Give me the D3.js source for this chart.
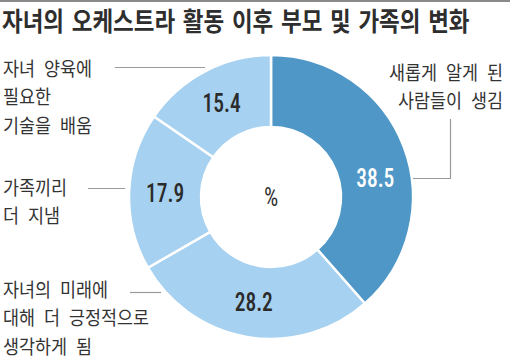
<!DOCTYPE html>
<html><head><meta charset="utf-8">
<script src="https://cdn.jsdelivr.net/npm/d3@7"></script>
<style>
html,body{margin:0;padding:0;background:#fff;}
svg{display:block;}
</style></head>
<body>
<script>
const title = "자녀의 오케스트라 활동 이후 부모 및 가족의 변화";
const categories = ["새롭게 알게 된\n사람들이 생김", "자녀의 미래에\n대해 더 긍정적으로\n생각하게 됨", "가족끼리\n더 지냄", "자녀 양육에\n필요한\n기술을 배움"];
const values = [38.5, 28.2, 17.9, 15.4];
const centerLabel = "%";

const W = 510, H = 360;
const svg = d3.select("body").append("svg").attr("width", W).attr("height", H);
const KR = "'Noto Sans CJK KR','Noto Sans CJK SC',sans-serif";
const NUM = "'Roboto Condensed','Liberation Sans Narrow','DejaVu Sans Condensed','Roboto',sans-serif";

svg.append("rect").attr("x",0).attr("y",0).attr("width",W).attr("height",2).attr("fill","#8a8a8a");

svg.append("g").attr("transform",`translate(2,31) scale(0.865,1)`)
  .append("text").text(title)
  .attr("font-family",KR).attr("font-weight",700).attr("font-size",26)
  .attr("word-spacing",3).attr("fill","#2e2e2e");

const cx = 271, cy = 197, R = 142, r0 = 70;
const colors = ["#4f97c6", "#a7d1f0", "#a7d1f0", "#a7d1f0"];
const pie = d3.pie().sort(null).value(d=>d)(values);
const arc = d3.arc().innerRadius(r0).outerRadius(R);
const g = svg.append("g").attr("transform",`translate(${cx},${cy})`);
g.selectAll("path").data(pie).join("path")
  .attr("d",arc).attr("fill",(d,i)=>colors[i]).attr("stroke","#fff").attr("stroke-width",2.5);

const angleShift = [0.18, 0, 0, 0];
g.selectAll("text.v").data(pie).join("text").attr("class","v")
  .attr("transform",(d,i)=>{
    const a = (d.startAngle+d.endAngle)/2 + angleShift[i];
    const rr = 106;
    return `translate(${rr*Math.sin(a)},${-rr*Math.cos(a)}) scale(0.86,1)`;
  })
  .attr("text-anchor","middle").attr("dy","0.36em")
  .attr("font-family",NUM).attr("font-size",25).attr("font-weight",500)
  .attr("fill",(d,i)=>i===0?"#fff":"#2b2b2b")
  .text(d=>d.data.toFixed(1));

g.append("text").attr("text-anchor","middle").attr("dy","0.36em")
  .attr("transform","scale(0.9,1)")
  .attr("font-family",NUM).attr("font-size",25).attr("fill","#333").text(centerLabel);

// category labels
const sx = 0.888, lh = 28.5;
function label(lines, x, y, anchor){
  const t = svg.append("g").attr("transform",`translate(${x},${y}) scale(${sx},1)`)
    .append("text").attr("font-family",KR).attr("font-size",19.6).attr("fill","#333")
    .attr("word-spacing",5.7).attr("text-anchor",anchor);
  lines.forEach((s,i)=>t.append("tspan").attr("x",0).attr("y",i*lh).text(s));
}
const lines = categories.map(c=>c.split("\n"));
label(lines[3], 3, 76, "start");
label(lines[2], 3, 195, "start");
label(lines[1], 3, 297, "start");
label(lines[0], 503, 79.5, "end");

// leader lines
const lc = "#9a9a9a";
const ll = svg.append("g").attr("stroke",lc).attr("stroke-width",1.2).attr("fill","none");
ll.append("line").attr("x1",115).attr("x2",205).attr("y1",67.5).attr("y2",67.5);
ll.append("line").attr("x1",88).attr("x2",125).attr("y1",188.5).attr("y2",188.5);
ll.append("line").attr("x1",130).attr("x2",161).attr("y1",292.5).attr("y2",292.5);
ll.append("path").attr("d","M450.5,119 V178.5 H413");
</script>
</body></html>
